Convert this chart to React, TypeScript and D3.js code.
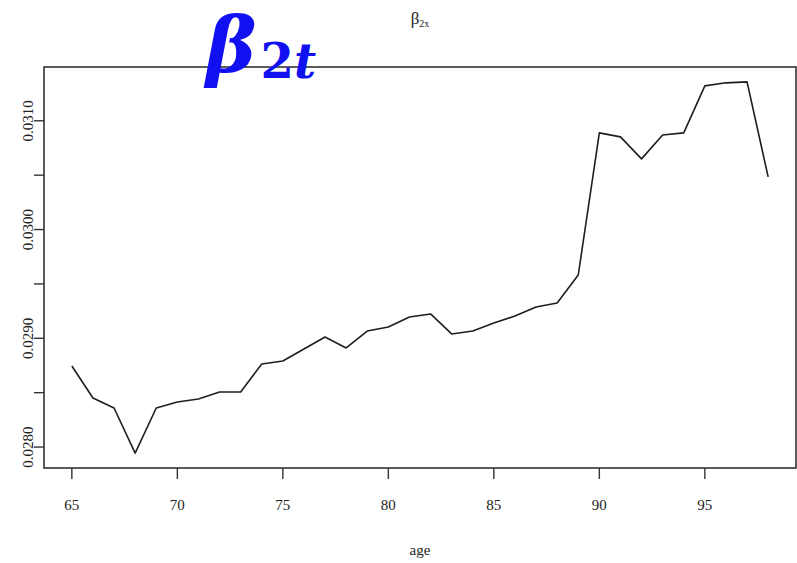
import React from "react";
import * as d3 from "d3";

// Age-specific coefficient beta_2x
const ages = [65, 66, 67, 68, 69, 70, 71, 72, 73, 74, 75, 76, 77, 78, 79, 80, 81, 82, 83, 84, 85, 86, 87, 88, 89, 90, 91, 92, 93, 94, 95, 96, 97, 98];
const beta2x = [
  0.028745, 0.028451, 0.028359, 0.027944, 0.028359, 0.028414, 0.028442, 0.028506, 0.028506, 0.028764,
  0.028791, 0.028902, 0.029012, 0.028911, 0.029067, 0.029104, 0.029196, 0.029224, 0.029040, 0.029067,
  0.029141, 0.029205, 0.029288, 0.029325, 0.029582, 0.030889, 0.030852, 0.030650, 0.030870, 0.030889,
  0.031321, 0.031349, 0.031358, 0.030484,
];
const xTicks = [65, 70, 75, 80, 85, 90, 95];
const yTicks = [0.028, 0.029, 0.03, 0.031];
const yMinor = [0.0285, 0.0295, 0.0305];

const W = 797;
const H = 563;
const box = { left: 44, right: 796, top: 67, bottom: 468 };
const serif = "Liberation Serif, Times New Roman, Times, serif";

export default function App() {
  // R-style 4% padding around the data range
  const xExt = d3.extent(ages) as [number, number];
  const yExt = d3.extent(beta2x) as [number, number];
  const xPad = (xExt[1] - xExt[0]) * 0.04;
  const yPad = (yExt[1] - yExt[0]) * 0.04;
  const x = d3.scaleLinear().domain([xExt[0] - xPad, xExt[1] + xPad]).range([box.left, box.right]);
  const y = d3.scaleLinear().domain([yExt[0] - yPad, yExt[1] + yPad]).range([box.bottom, box.top]);

  const line = d3
    .line<number>()
    .x((_, i) => x(ages[i]))
    .y((d) => y(d));

  const fmt = d3.format(".4f");

  return (
    <svg width={W} height={H} style={{ position: "absolute", left: 0, top: 0, background: "#fff" }}>
      <rect x={0} y={0} width={W} height={H} fill="#fff" />
      {/* plot frame */}
      <rect
        x={box.left}
        y={box.top}
        width={box.right - box.left}
        height={box.bottom - box.top}
        fill="none"
        stroke="#333"
        strokeWidth={1.6}
      />
      {/* series */}
      <path d={line(beta2x) ?? ""} fill="none" stroke="#1e1e1e" strokeWidth={1.6} strokeLinejoin="round" />

      {/* x axis */}
      {xTicks.map((t) => (
        <g key={`x${t}`}>
          <line x1={x(t)} x2={x(t)} y1={box.bottom} y2={box.bottom + 11} stroke="#333" strokeWidth={1.4} />
          <text x={x(t)} y={510} textAnchor="middle" style={{ fontFamily: serif }} fontSize={15} fill="#222">
            {t}
          </text>
        </g>
      ))}
      <text x={(box.left + box.right) / 2} y={555} textAnchor="middle" style={{ fontFamily: serif }} fontSize={15} fill="#222">
        age
      </text>

      {/* y axis */}
      {[...yTicks, ...yMinor].map((t) => (
        <line key={`yt${t}`} x1={box.left - 10} x2={box.left} y1={y(t)} y2={y(t)} stroke="#333" strokeWidth={1.4} />
      ))}
      {yTicks.map((t) => (
        <text
          key={`yl${t}`}
          transform={`translate(33,${y(t)}) rotate(-90)`}
          textAnchor="middle"
          style={{ fontFamily: serif }}
          fontSize={15}
          fill="#222"
        >
          {fmt(t)}
        </text>
      ))}

      {/* main title */}
      <text x={420} y={24} textAnchor="middle" style={{ fontFamily: serif }} fontSize={17} fill="#222">
        β
        <tspan fontSize={10} dy={3}>2x</tspan>
      </text>

      {/* blue symbol label */}
      <text x={206} y={72} style={{ fontFamily: "DejaVu Serif, serif" }} fontSize={76} fontStyle="italic" fontWeight="bold" fill="#1010f0">
        β
        <tspan fontSize={48} dx={4} dy={6} fontStyle="normal">2</tspan>
        <tspan fontSize={48} fontStyle="italic">t</tspan>
      </text>
    </svg>
  );
}
